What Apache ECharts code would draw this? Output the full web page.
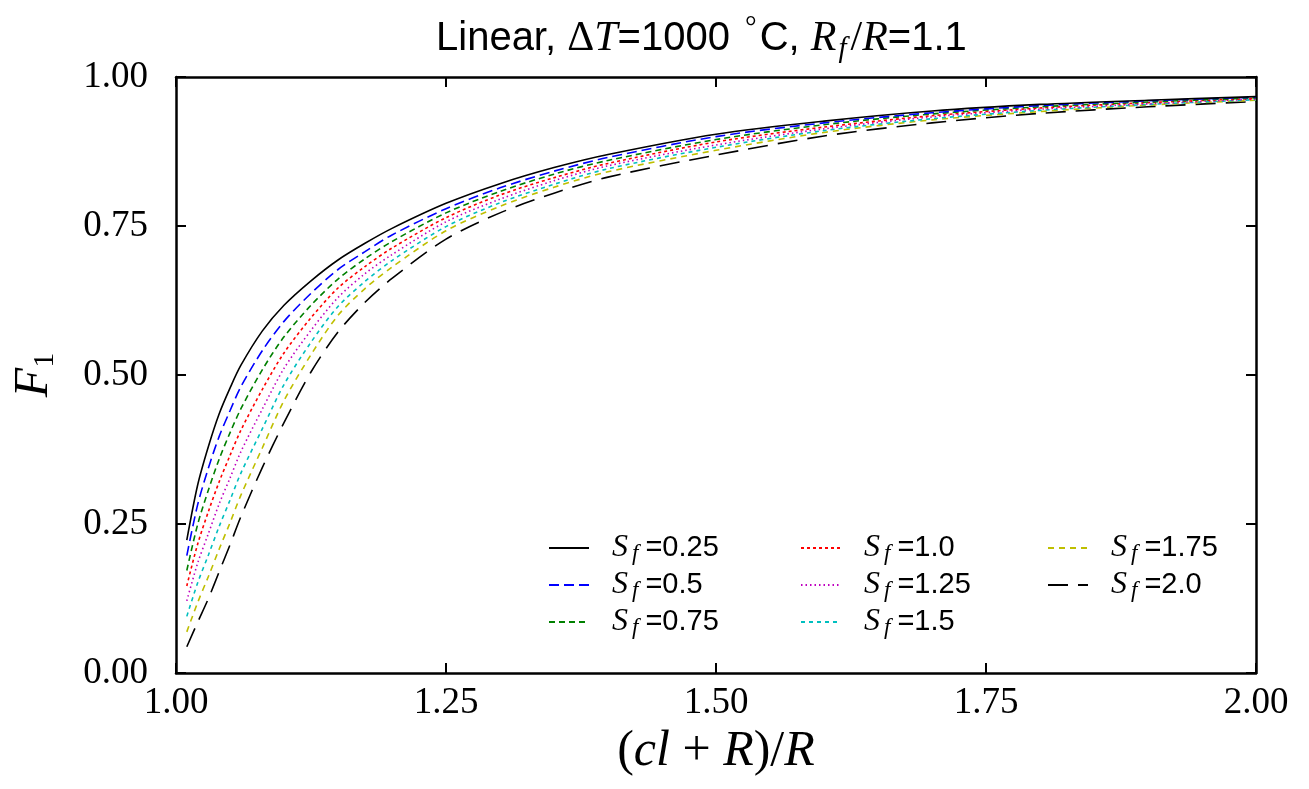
<!DOCTYPE html>
<html><head><meta charset="utf-8">
<script src="https://cdn.jsdelivr.net/npm/echarts@6/dist/echarts.min.js"></script>
<style>html,body{margin:0;padding:0;background:#fff}#c{width:1309px;height:789px}</style>
</head><body><div id="c"></div>
<script>
// x positions (cl+R)/R
const xValues = [1.01, 1.02, 1.03, 1.04, 1.05, 1.06, 1.08, 1.10, 1.125, 1.15, 1.175, 1.2, 1.25, 1.3, 1.35, 1.4, 1.5, 1.6, 1.7, 1.8, 1.9, 2.0];
// F1 values per S_f
const sf025 = [.223,.315,.380,.435,.478,.516,.574,.617,.658,.693,.721,.746,.788,.821,.848,.870,.904,.926,.943,.954,.961,.967];
const sf050 = [.197,.282,.344,.397,.440,.480,.541,.590,.637,.677,.707,.735,.779,.814,.842,.865,.900,.923,.940,.952,.960,.966];
const sf075 = [.172,.249,.307,.359,.403,.443,.509,.564,.617,.661,.695,.724,.772,.808,.837,.860,.895,.920,.938,.950,.958,.965];
const sf100 = [.146,.216,.271,.321,.365,.407,.476,.537,.596,.646,.682,.713,.764,.802,.831,.855,.891,.916,.935,.948,.957,.964];
const sf125 = [.121,.184,.234,.284,.327,.371,.443,.511,.575,.630,.670,.702,.757,.795,.826,.851,.886,.913,.933,.946,.955,.963];
const sf150 = [.095,.151,.198,.246,.290,.335,.410,.484,.555,.615,.657,.692,.749,.789,.820,.846,.882,.910,.930,.944,.954,.962];
const sf175 = [.069,.118,.162,.208,.252,.298,.378,.457,.534,.600,.645,.681,.742,.783,.815,.841,.877,.907,.928,.942,.953,.961];
const sf200 = [.044,.085,.125,.170,.215,.262,.345,.420,.505,.572,.622,.662,.728,.772,.805,.832,.869,.901,.923,.939,.950,.959];
const sfLabels = ['0.25','0.5','0.75','1.0','1.25','1.5','1.75','2.0'];
const xTickLabels = ['1.00','1.25','1.50','1.75','2.00'];
const yTickLabels = ['0.00','0.25','0.50','0.75','1.00'];

const allValues = [sf025, sf050, sf075, sf100, sf125, sf150, sf175, sf200];
const styles = [
  {color:'#000000', type:'solid'},
  {color:'#0000ff', type:[10,5]},
  {color:'#008000', type:[6,4]},
  {color:'#ff0000', type:[3,3]},
  {color:'#bf00bf', type:[1.5,3]},
  {color:'#00bfbf', type:[4,4]},
  {color:'#bfbf00', type:[6,5]},
  {color:'#000000', type:[20,10]}
];
const names = sfLabels.map(v => 'Sf=' + v);
const series = allValues.map((vals, i) => ({
  name: names[i],
  type: 'line',
  smooth: 0.3,
  symbol: 'none',
  showSymbol: false,
  data: xValues.map((x, j) => [x, vals[j]]),
  lineStyle: {color: styles[i].color, type: styles[i].type, width: 1.6},
  itemStyle: {color: styles[i].color},
  z: 10 - i
}));

const SERIF = 'Liberation Serif';
const SANS = 'Liberation Sans';
const legendRich = {
  i: {fontFamily: SERIF, fontStyle: 'italic', fontSize: 32, lineHeight: 34, verticalAlign: 'middle', color:'#000'},
  s: {fontFamily: SERIF, fontStyle: 'italic', fontSize: 23, lineHeight: 22, verticalAlign: 'bottom', padding:[0,7,0,4], color:'#000'},
  n: {fontFamily: SANS, fontSize: 29, lineHeight: 34, verticalAlign: 'middle', color:'#000'}
};
function legendCol(items, left) {
  return {
    show: true,
    data: items, orient: 'vertical', left: left, top: 527,
    itemWidth: 40, itemHeight: 14, itemGap: 4,
    itemStyle: {opacity: 0},
    formatter: name => '{i|S}{s|f}{n|=' + name.slice(3) + '}',
    textStyle: {rich: legendRich, padding: [0,0,0,18]}
  };
}

const tickAxisCommon = {
  type: 'value', min: 1.0, max: 2.0, interval: 0.25,
  axisLine: {show: true, onZero: false, lineStyle: {color: '#000', width: 2.5}},
  axisTick: {show: true, inside: true, length: 10, lineStyle: {color: '#000', width: 2}},
  splitLine: {show: false}
};

const option = {
  animation: false,
  backgroundColor: '#fff',
  title: {
    text: '{n|Linear, }{m|Δ}{i|T}{n|=1000 }{sup|°}{n|C, }{i|R}{sub|f}{m|/}{i|R}{n|=1.1}',
    left: 431, top: 9,
    textStyle: {
      fontWeight: 'normal',
      rich: {
        n: {fontFamily: SANS, fontWeight: 'normal', fontSize: 40, lineHeight: 50, color: '#000'},
        m: {fontFamily: SERIF, fontWeight: 'normal', fontSize: 42, lineHeight: 50, color: '#000'},
        i: {fontFamily: SERIF, fontWeight: 'normal', fontStyle: 'italic', fontSize: 42, lineHeight: 50, color: '#000'},
        sub: {fontFamily: SERIF, fontWeight: 'normal', fontStyle: 'italic', fontSize: 29, lineHeight: 35, verticalAlign: 'bottom', color: '#000', padding:[0,4,0,2]},
        sup: {fontFamily: SERIF, fontWeight: 'normal', fontSize: 29, lineHeight: 29, verticalAlign: 'top', color: '#000', padding:[0,3,0,4]}
      }
    }
  },
  grid: {left: 176, right: 53, top: 77, bottom: 116, containLabel: false, outerBoundsMode: 'none'},
  legend: [
    legendCol(names.slice(0,3), 543),
    legendCol(names.slice(3,6), 795),
    legendCol(names.slice(6,8), 1042)
  ],
  xAxis: [
    Object.assign({}, tickAxisCommon, {
      position: 'bottom',
      name: '{n|(}{i|cl}{n| + }{i|R}{n|)/}{i|R}',
      nameLocation: 'middle', nameGap: 50,
      nameTextStyle: {rich: {
        n: {fontFamily: SERIF, fontSize: 50, color: '#000'},
        i: {fontFamily: SERIF, fontStyle: 'italic', fontSize: 50, color: '#000'}
      }},
      axisLabel: {show: true, margin: 12, fontFamily: SERIF, fontSize: 37, color: '#000',
        formatter: v => xTickLabels[Math.round((v - 1) / 0.25)]}
    }),
    Object.assign({}, tickAxisCommon, {position: 'top', axisLabel: {show: false}})
  ],
  yAxis: [
    Object.assign({}, tickAxisCommon, {
      min: 0, max: 1.0, position: 'left',
      name: '{i|F}{sub|1}', nameLocation: 'middle', nameGap: 116, nameRotate: 90,
      nameTextStyle: {rich: {
        i: {fontFamily: SERIF, fontStyle: 'italic', fontSize: 48, lineHeight: 52, color: '#000'},
        sub: {fontFamily: SERIF, fontSize: 30, lineHeight: 34, verticalAlign: 'bottom', color: '#000'}
      }},
      axisLabel: {show: true, margin: 28, fontFamily: SERIF, fontSize: 37, color: '#000',
        formatter: v => yTickLabels[Math.round(v / 0.25)]}
    }),
    Object.assign({}, tickAxisCommon, {min: 0, max: 1.0, position: 'right', axisLabel: {show: false}})
  ],
  series: series
};
const chart = echarts.init(document.getElementById('c'), null, {renderer: 'canvas'});
chart.setOption(option);
</script>
</body></html>
